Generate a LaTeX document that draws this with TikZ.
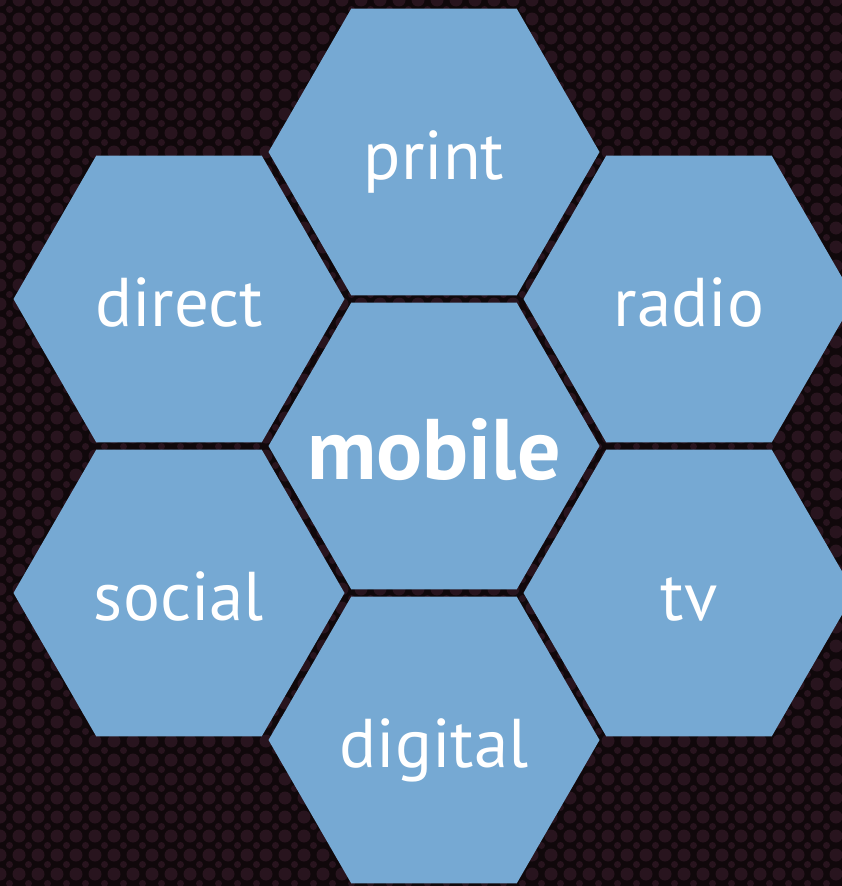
\documentclass[tikz,border=0pt]{standalone}
\usepackage{fontspec}
\setmainfont{PT Sans}
\usetikzlibrary{shapes.geometric}
\definecolor{hexblue}{RGB}{118,169,211}
\definecolor{bgdark}{RGB}{16,8,11}
\definecolor{bgdot}{RGB}{40,20,30}
\tikzset{
  hexcell/.style={regular polygon, regular polygon sides=6, minimum size=331pt,
    inner sep=0pt, outer sep=0pt, fill=hexblue, draw=none},
  celltext/.style={anchor=base, text=white, font=\fontsize{69}{76}\selectfont},
  hubtext/.style={anchor=base, text=white, font=\bfseries\fontsize{86}{94}\selectfont}
}
\begin{document}
\begin{tikzpicture}[x=1pt, y=-1pt]
  \useasboundingbox (0,0) rectangle (842,886);
  \clip (0,0) rectangle (842,886);
  %% ── Background (dark dotted texture) ─────────────────────
  \fill[bgdark] (0,0) rectangle (842,886);
  \foreach \i in {0,...,44}{
    \foreach \j in {0,...,47}{
      \fill[bgdot] (\i*19, \j*19) circle (6.5);
      \fill[bgdot] (\i*19+9.5, \j*19+9.5) circle (3.5);
    }
  }
  %% ── Hub cell ─────────────────────────────────────────────
  \node[hexcell] (hexmobile) at (434,446) {};
  \node[hubtext] (mobile) at ([yshift=-33pt]hexmobile.center) {mobile};
  %% ── Outer cells (clockwise from top) ─────────────────────
  \foreach \nm/\cx/\cy in {
      print/434/152,
      radio/689/299,
      tv/689/593,
      digital/434/740,
      social/179/593,
      direct/179/299}{
    \node[hexcell] (hex\nm) at (\cx,\cy) {};
    \node[celltext] (\nm) at ([yshift=-27pt]hex\nm.center) {\nm};
  }
\end{tikzpicture}
\end{document}
